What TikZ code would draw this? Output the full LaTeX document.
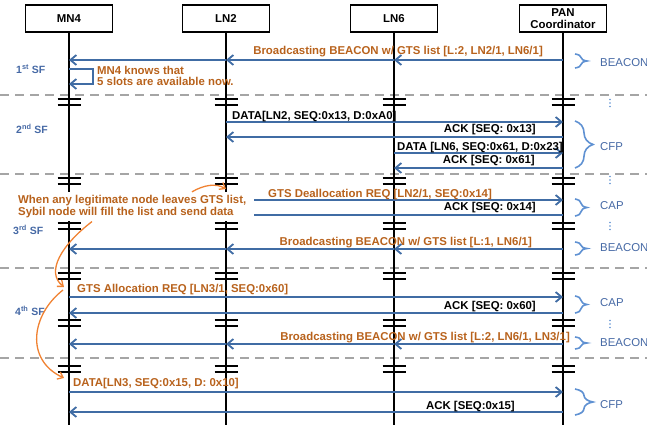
\documentclass[tikz,border=0pt]{standalone}
\usepackage{fontspec}
\setmainfont{Liberation Sans}
\usetikzlibrary{arrows.meta, positioning, calc, decorations.pathreplacing}

\definecolor{MsgBlue}{RGB}{64,108,164}
\definecolor{NoteOrange}{RGB}{184,98,28}
\definecolor{HintOrange}{RGB}{240,130,50}
\definecolor{PhaseBlue}{RGB}{95,145,210}
\definecolor{PhaseText}{RGB}{70,105,165}
\definecolor{SepGray}{RGB}{165,165,165}

\begin{document}
\begin{tikzpicture}[
  x=1pt, y=-1pt,
  every node/.style={font=\fontsize{11.4}{12.3}\selectfont\bfseries, inner sep=0pt},
  header/.style={rectangle, draw, line width=1.8pt, fill=white, minimum width=87pt,
                 minimum height=27pt, align=center},
  lifeline/.style={line width=1.8pt},
  breakbar/.style={line width=1.5pt},
  separator/.style={draw=SepGray, line width=1.8pt, dash pattern=on 9pt off 6pt},
  msg/.style={draw=MsgBlue, line width=1.8pt, -{Straight Barb[length=6pt,width=10pt]}},
  orangetext/.style={text=NoteOrange},
  blacktext/.style={text=black},
  note/.style={text=NoteOrange, align=left, fill=white, inner xsep=8pt, inner ysep=3pt,
               font=\fontsize{11.4}{12.7}\selectfont\bfseries},
  hint/.style={draw=HintOrange, line width=1.3pt, -{Straight Barb[length=5pt,width=8pt]}},
  phase/.style={draw=PhaseBlue, line width=1.6pt, decorate, decoration={brace, amplitude=#1}},
  phase/.default=18pt,
  phaselabel/.style={text=PhaseText, font=\fontsize{11.4}{12}\selectfont, anchor=base west},
  sflabel/.style={text=PhaseText, font=\fontsize{10.5}{12}\selectfont\bfseries, anchor=base west},
]
\useasboundingbox (0,0) rectangle (647,427);

% Superframe separators
\foreach \y in {95,174,268,358}
  \draw[separator] (0,\y) -- (647,\y);

% Nodes
\node[header] (mn4) at (69,18.5) {MN4};
\node[header] (ln2) at (226,18.5) {LN2};
\node[header] (ln6) at (394,18.5) {LN6};
\node[header] (pan) at (563,18.5) {PAN\\Coordinator};

% Lifelines with break marks
\coordinate (bottom) at (0,425);
\foreach \n in {mn4,ln2,ln6,pan} {
  \draw[lifeline] (\n.south) -- (\n.south |- bottom);
  \foreach \y in {102,181,226,276,323,369}
    \draw[breakbar] (\n.south |- 0,\y) ++(-11.5,-3) -- ++(23,0) ++(-23,6) -- ++(23,0);
}

% Message rows
\coordinate (b1) at (0,60);
\coordinate (s1) at (0,69);
\coordinate (s2) at (0,84);
\coordinate (d1) at (0,122);
\coordinate (a1) at (0,137);
\coordinate (d2) at (0,153);
\coordinate (a2) at (0,168);
\coordinate (q1) at (0,200);
\coordinate (a3) at (0,215);
\coordinate (b2) at (0,249);
\coordinate (q2) at (0,297);
\coordinate (a4) at (0,313);
\coordinate (b3) at (0,344);
\coordinate (d3) at (0,392);
\coordinate (a5) at (0,412);

% 1st SF
\node[sflabel] (sf1) at (16,73.5) {1\textsuperscript{st} SF};
\foreach \a/\b in {pan/ln6, ln6/ln2, ln2/mn4}
  \draw[msg] (\a |- b1) -- (\b |- b1);
\node[orangetext, anchor=base east] (lb1) at (543,55) {Broadcasting BEACON w/ GTS list [L:2, LN2/1, LN6/1]};
\draw[msg] (mn4 |- s1) -- ++(24,0) |- (mn4 |- s2);
\node[orangetext, align=left, anchor=west, font=\fontsize{11.4}{11.5}\selectfont\bfseries] (know) at (97,75.8)
  {MN4 knows that\\5 slots are available now.};

% 2nd SF
\node[sflabel] (sf2) at (16,133.3) {2\textsuperscript{nd} SF};
\draw[msg] (ln2 |- d1) -- (pan |- d1);
\node[blacktext, anchor=base west] (ld1) at (232,119.5) {DATA[LN2, SEQ:0x13, D:0xA0]};
\draw[msg] (pan |- a1) -- (ln2 |- a1);
\node[blacktext, anchor=base east] (la1) at (536,132.5) {ACK [SEQ: 0x13]};
\draw[msg] (ln6 |- d2) -- (pan |- d2);
\node[blacktext, anchor=base west] (ld2) at (397,150.5) {DATA [LN6, SEQ:0x61, D:0x23]};
\draw[msg] (pan |- a2) -- (ln6 |- a2);
\node[blacktext, anchor=base east] (la2) at (535,164) {ACK [SEQ: 0x61]};

% 3rd SF
\node[sflabel] (sf3) at (13,234.5) {3\textsuperscript{rd} SF};
\draw[msg] (ln2 |- q1) -- (pan |- q1);
\node[orangetext, anchor=base west] (lq1) at (268,197.5) {GTS Deallocation REQ [LN2/1, SEQ:0x14]};
\draw[msg] (pan |- a3) -- (ln2 |- a3);
\node[blacktext, anchor=base east] (la3) at (536,210.5) {ACK [SEQ: 0x14]};
\foreach \a/\b in {pan/ln6, ln6/ln2, ln2/mn4}
  \draw[msg] (\a |- b2) -- (\b |- b2);
\node[orangetext, anchor=base east] (lb2) at (532,246) {Broadcasting BEACON w/ GTS list [L:1, LN6/1]};

% 4th SF
\node[sflabel] (sf4) at (15,315) {4\textsuperscript{th} SF};
\draw[msg] (mn4 |- q2) -- (pan |- q2);
\node[orangetext, anchor=base west] (lq2) at (77,292.5) {GTS Allocation REQ [LN3/1, SEQ:0x60]};
\draw[msg] (pan |- a4) -- (mn4 |- a4);
\node[blacktext, anchor=base east] (la4) at (536,309.3) {ACK [SEQ: 0x60]};
\foreach \a/\b in {pan/ln6, ln6/ln2, ln2/mn4}
  \draw[msg] (\a |- b3) -- (\b |- b3);
\node[orangetext, anchor=base east] (lb3) at (570,340) {Broadcasting BEACON w/ GTS list [L:2, LN6/1, LN3/1]};

% next SF
\draw[msg] (mn4 |- d3) -- (pan |- d3);
\node[orangetext, anchor=base west] (ld3) at (73,386.5) {DATA[LN3, SEQ:0x15, D: 0x10]};
\draw[msg] (pan |- a5) -- (mn4 |- a5);
\node[blacktext, anchor=base east] (la5) at (515,409.3) {ACK [SEQ:0x15]};

% Superframe periods
\draw[phase=12pt] (575,54) -- (575,68);
\node[phaselabel] (pb1) at (600,66.7) {BEACON};
\draw[phase] (575,121) -- (575,168);
\node[phaselabel] (pc1) at (600,150.7) {CFP};
\draw[phase=12pt] (575,199) -- (575,216);
\node[phaselabel] (pp1) at (600,210) {CAP};
\draw[phase=12pt] (575,242) -- (575,255);
\node[phaselabel] (pb2) at (600,252) {BEACON};
\draw[phase=12pt] (575,296) -- (575,313);
\node[phaselabel] (pp2) at (600,306.7) {CAP};
\draw[phase=12pt] (575,337) -- (575,349);
\node[phaselabel] (pb3) at (600,346.7) {BEACON};
\draw[phase] (575,389) -- (575,415);
\node[phaselabel] (pc2) at (600,408.3) {CFP};
\foreach \y in {103,180,226,324}
  \fill[PhaseBlue] (610,\y-3.5) circle[radius=0.8pt] (610,\y) circle[radius=0.8pt] (610,\y+3.5) circle[radius=0.8pt];

% Sybil note
\node[note, anchor=west] (note) at (10,206.7)
  {When any legitimate node leaves GTS list,\\Sybil node will fill the list and send data};
\coordinate (t1) at (64,287);
\coordinate (t2) at (64,378);
\draw[hint] ([xshift=182pt]note.north west) .. controls +(12,-7) and +(-10,-6) .. (ln2 |- 0,189);
\draw[hint] ([xshift=82pt]note.south west) .. controls +(-30,23) and +(-19,-15) .. (t1);
\draw[hint] ([shift={(-1,3)}]t1) .. controls +(-32,25) and +(-39,-18) .. (t2);

\end{tikzpicture}
\end{document}
